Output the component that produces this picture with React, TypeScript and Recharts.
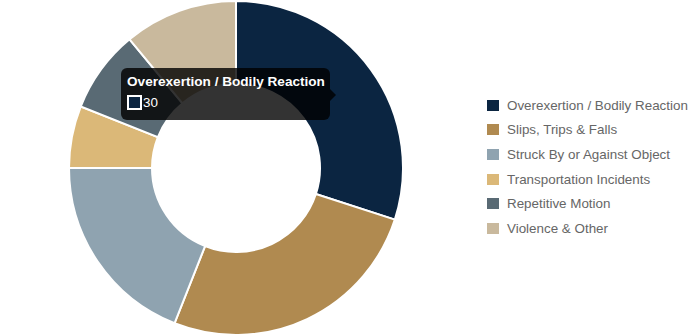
import React from 'react';
import { PieChart, Pie, Cell, Tooltip, Legend } from 'recharts';

const categories = [
  'Overexertion / Bodily Reaction',
  'Slips, Trips & Falls',
  'Struck By or Against Object',
  'Transportation Incidents',
  'Repetitive Motion',
  'Violence & Other',
];
const counts = [30, 26, 19, 6, 8, 11];
const colors = ['#0b2541', '#b08a50', '#8fa3b0', '#dbb878', '#596a74', '#c9b99d'];

const data = categories.map((name, i) => ({ name, value: counts[i] }));

const FONT = '"Liberation Sans", Arial, Helvetica, sans-serif';

const LegendContent = () => (
  <div style={{ fontFamily: FONT, fontSize: 13.4, color: '#666' }}>
    {categories.map((name, i) => (
      <div key={name} style={{ display: 'flex', alignItems: 'center', height: 24.6 }}>
        <span
          style={{
            display: 'inline-block',
            width: 12,
            height: 11,
            background: colors[i],
            marginRight: 8,
          }}
        />
        <span>{name}</span>
      </div>
    ))}
  </div>
);

const TooltipContent = ({ active, payload }: any) => {
  if (!active || !payload || !payload.length) return null;
  const item = payload[0];
  const idx = categories.indexOf(item.name);
  return (
    <div style={{ position: 'relative', fontFamily: FONT }}>
      <div
        style={{
          background: 'rgba(0,0,0,0.8)',
          borderRadius: 6,
          padding: '6px 6px 6px 6px',
          width: 197,
          height: 40,
          color: '#fff',
        }}
      >
        <div style={{ fontWeight: 'bold', fontSize: 13.6, lineHeight: '16px', marginBottom: 5, whiteSpace: 'nowrap' }}>
          {item.name}
        </div>
        <div style={{ display: 'flex', alignItems: 'center', fontSize: 13.4 }}>
          <span
            style={{
              display: 'inline-block',
              width: 11,
              height: 11,
              border: '2px solid #fff',
              background: colors[idx],
              marginRight: 1,
            }}
          />
          <span>{item.value}</span>
        </div>
      </div>
      <div
        style={{
          position: 'absolute',
          right: -6,
          top: 21,
          width: 0,
          height: 0,
          borderTop: '6px solid transparent',
          borderBottom: '6px solid transparent',
          borderLeft: '6px solid rgba(0,0,0,0.8)',
        }}
      />
    </div>
  );
};

export default function App() {
  return (
    <div style={{ position: 'absolute', left: 0, top: 0, width: 700, height: 336, background: '#fff' }}>
      <PieChart width={700} height={336} margin={{ top: 0, right: 0, bottom: 0, left: 0 }}>
        <Pie
          data={data}
          dataKey="value"
          nameKey="name"
          cx={236}
          cy={168}
          innerRadius={84}
          outerRadius={167}
          startAngle={90}
          endAngle={-270}
          stroke="#fff"
          strokeWidth={2}
          isAnimationActive={false}
        >
          {data.map((d, i) => (
            <Cell key={d.name} fill={colors[i]} />
          ))}
        </Pie>
        <Legend
          layout="vertical"
          align="right"
          verticalAlign="top"
          content={<LegendContent />}
          wrapperStyle={{ left: 487, top: 93, width: 210 }}
        />
        <Tooltip
          content={<TooltipContent />}
          defaultIndex={0}
          active
          position={{ x: 121, y: 68 }}
          isAnimationActive={false}
          wrapperStyle={{ outline: 'none' }}
        />
      </PieChart>
    </div>
  );
}
